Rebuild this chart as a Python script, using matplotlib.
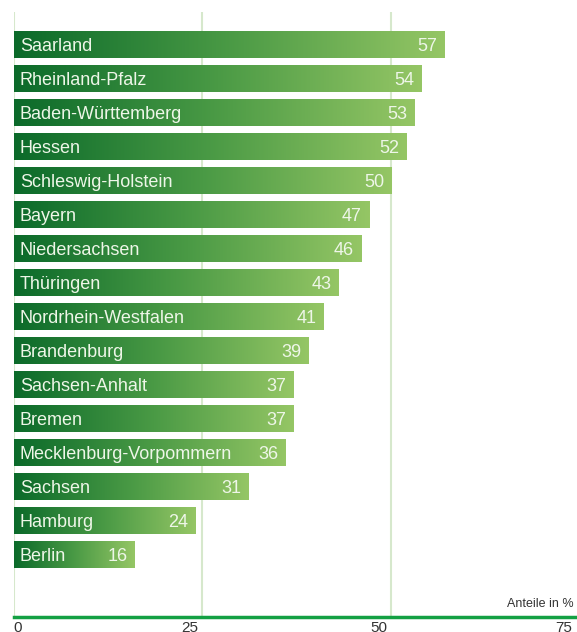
import numpy as np
import matplotlib.pyplot as plt
from matplotlib.colors import LinearSegmentedColormap

# data
laender = ["Saarland", "Rheinland-Pfalz", "Baden-Württemberg", "Hessen",
           "Schleswig-Holstein", "Bayern", "Niedersachsen", "Thüringen",
           "Nordrhein-Westfalen", "Brandenburg", "Sachsen-Anhalt", "Bremen",
           "Mecklenburg-Vorpommern", "Sachsen", "Hamburg", "Berlin"]
anteile = [57, 54, 53, 52, 50, 47, 46, 43, 41, 39, 37, 37, 36, 31, 24, 16]
ticks = [0, 25, 50, 75]

plt.rcParams['font.family'] = ['Liberation Sans', 'DejaVu Sans']

fig = plt.figure(figsize=(5.77, 6.32), dpi=100)
W, H = 577, 632
x0, x1 = 13.5, 580
ytop, ybot = 12, 617
ax = fig.add_axes([x0 / W, 1 - ybot / H, (x1 - x0) / W, (ybot - ytop) / H])

pitch = 34.0
c0 = 45.0
ax.set_xlim(0, 75)
ax.set_ylim((ybot - c0) / pitch, (ytop - c0) / pitch)

cmap = LinearSegmentedColormap.from_list("g", ["#0b6a2a", "#4a9a45", "#95c665"])
grad = np.linspace(0, 1, 256).reshape(1, -1)

for x in [0, 25, 50]:
    ax.axvline(x, color="#d6e8cc", lw=1.5, zorder=0)

bh = 27 / pitch
for i, (name, val) in enumerate(zip(laender, anteile)):
    ax.imshow(grad, cmap=cmap, aspect="auto", interpolation="bilinear",
              extent=(0, val, i + bh / 2, i - bh / 2), zorder=2)
    ax.text(0.85, i + 0.03, name, color="#eef6e8", fontsize=13,
            va="center", ha="left", zorder=3)
    ax.text(val - 0.9, i + 0.03, str(val), color="#eef6e8", fontsize=13,
            va="center", ha="right", zorder=3)

ax.axhline((ybot - c0) / pitch, color="#13a043", lw=2.5, zorder=4, clip_on=False)

for s in ax.spines.values():
    s.set_visible(False)
ax.set_xticks([])
ax.set_yticks([])

for t in ticks:
    ha = "left" if t == 0 else "right"
    xx = t if t == 0 else t - 0.5
    if t == 75:
        xx = 74.0
    ax.text(xx, (ybot - c0 + 4) / pitch, str(t), ha=ha, va="top",
            fontsize=11, color="#333333", clip_on=False)

ax.text(74.2, (ybot - c0 - 7) / pitch, "Anteile in %", ha="right", va="bottom",
        fontsize=9, color="#333333")

fig.savefig("out.png", dpi=100)
